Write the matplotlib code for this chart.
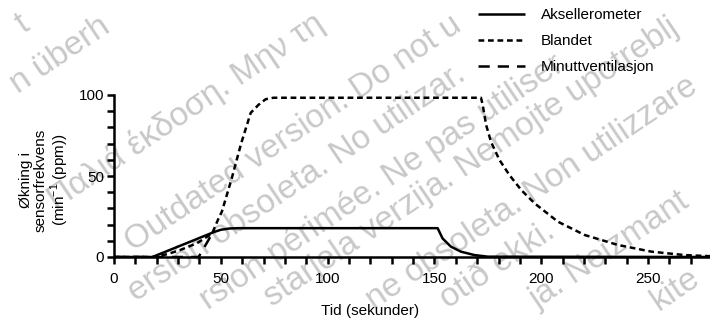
import numpy as np
import matplotlib
matplotlib.use('Agg')
import matplotlib.pyplot as plt
from matplotlib.ticker import MultipleLocator

plt.rcParams['font.family'] = ['Liberation Sans', 'DejaVu Sans']
plt.rcParams['mathtext.fontset'] = 'custom'
plt.rcParams['mathtext.rm'] = 'Liberation Sans'

# Aksellerometer (solid)
accel_x = [0, 18, 47, 50, 54, 58, 151.5, 153.8, 157.7, 162.4, 168.7, 175, 280]
accel_y = [0, 0, 15.5, 16.8, 17.6, 17.8, 17.8, 11.5, 6.4, 3.3, 1.2, 0.2, 0]

# Blandet (dotted)
mix_x = [0, 19, 25, 31, 38.8, 45.9, 49, 50.5, 55, 59.5, 64, 67.7, 71, 74.6, 80,
         171.8, 172.6, 174.2, 176.5, 180.4, 185.1, 190.6, 197, 207.8, 220.3,
         236, 251.6, 267, 279]
mix_y = [0, 0, 1.8, 4.3, 8.5, 14.4, 24, 28, 48, 70, 89, 94, 97.4, 98.3, 98.3,
         98.3, 93.8, 81.5, 71, 60, 50.6, 41.4, 33, 21.8, 13.6,
         7.4, 3.3, 1.2, 0.5]

# Minuttventilasjon (long dash), visible part only
mv_x = [0, 39.6, 46]
mv_y = [0, 0, 14.5]

labels = ['Aksellerometer', 'Blandet', 'Minuttventilasjon']

# watermark lines: (text, part to centre, pixel x, pixel y)
wm_lines = [
    ('Forældet version. Må ikke anvendes.', 'et ver', 38, 14),
    ('Version überholt. Nicht verwenden.', 'überhol', 82, 40),
    ('Παλιά έκδοση. Μην την χρησιμοποιείτε.', 'Μην την', 285, 45),
    ('Outdated version. Do not use. Versión obsoleta.', 'Do not', 395, 65),
    ('Versión obsoleta. No utilizar.', 'obsoleta', 265, 205),
    ('Version périmée. Ne pas utiliser.', 'Ne pas', 430, 150),
    ('Zastarjela verzija. Nemojte upotrebljavati.', 'upotreblja', 630, 55),
    ('Versione obsoleta. Non utilizzare.', 'utilizzare', 640, 120),
    ('Úrelt útgáfa. Notið ekki.', 'ekki', 520, 250),
    ('Novecojusi versija. Neizmantot.', 'Neizmantot', 640, 230),
    ('Pasenusi versija. Nenaudokite.', 'dokite', 660, 300),
]
WM_ANGLE = 34
WM_SIZE = 24
WM_COLOR = '#c8c8c8'
W, H = 710, 320

fig = plt.figure(figsize=(7.1, 3.2), dpi=100)
renderer = fig.canvas.get_renderer()

# watermark behind the chart, trimmed to the characters that fit in the picture
ca, sa = np.cos(np.radians(WM_ANGLE)), np.sin(np.radians(WM_ANGLE))
probe = fig.text(0, 0, '', fontsize=WM_SIZE)


def text_width(s):
    if not s:
        return 0.0
    probe.set_text(s)
    return probe.get_window_extent(renderer).width


for text, key, px, py in wm_lines:
    i = text.index(key)
    off = text_width(text[:i]) + text_width(key) / 2
    x0 = px - off * ca
    y0 = py + off * sa
    probe.set_text(text)
    h = probe.get_window_extent(renderer).height
    offs = [text_width(text[:j]) for j in range(len(text) + 1)]
    inside = []
    for j in range(len(text)):
        ok = True
        for t in (offs[j], offs[j + 1]):
            for u in (-h / 2, h / 2):
                x = x0 + t * ca + u * sa
                y = y0 - t * sa + u * ca
                if not (2 <= x <= W - 2 and 2 <= y <= H - 2):
                    ok = False
        if ok:
            inside.append(j)
    if not inside:
        continue
    a, b = inside[0], inside[-1] + 1
    while a < b and text[a] == ' ':
        a += 1
    part = text[a:b].rstrip()
    if not part:
        continue
    xs = x0 + offs[a] * ca
    ys = y0 - offs[a] * sa
    fig.text(xs / W, 1 - ys / H, part, fontsize=WM_SIZE, color=WM_COLOR,
             rotation=WM_ANGLE, rotation_mode='anchor', ha='left', va='center', zorder=-5)
probe.remove()

ax = fig.add_axes([114 / W, 1 - 257 / H, 1 - 114 / W, 162 / H])
ax.patch.set_visible(False)

lw = 1.8
l1, = ax.plot(accel_x, accel_y, color='black', lw=lw, solid_capstyle='butt')
l3, = ax.plot(mv_x, mv_y, color='black', lw=lw, dashes=(4.5, 3.2))
l2, = ax.plot(mix_x, mix_y, color='black', lw=lw, dashes=(2.3, 1.5))

ax.set_xlim(0, 279)
ax.set_ylim(0, 100)
ax.xaxis.set_major_locator(MultipleLocator(50))
ax.xaxis.set_minor_locator(MultipleLocator(10))
ax.yaxis.set_major_locator(MultipleLocator(50))
ax.yaxis.set_minor_locator(MultipleLocator(10))
ax.tick_params(which='both', length=5, width=1.8, labelsize=11, color='black')
ax.tick_params(axis='x', pad=6)
ax.tick_params(axis='y', pad=2)
for s in ['top', 'right']:
    ax.spines[s].set_visible(False)
for s in ['left', 'bottom']:
    ax.spines[s].set_linewidth(1.8)
ax.spines['bottom'].set_bounds(0, 279)

fig.text(370 / W, 1 - 311 / H, 'Tid (sekunder)', ha='center', va='center', fontsize=11)
fig.text(45 / W, 1 - 180 / H,
         'Økning i\nsensorfrekvens\n(min$^{\\mathregular{-1}}$ (ppm))',
         ha='center', va='center', rotation=90, multialignment='center',
         fontsize=11, linespacing=1.05)

fig.legend([l1, l2, l3], labels, loc='upper left', bbox_to_anchor=(478 / W, 1 - 8 / H),
           frameon=False, fontsize=11, handlelength=3.1, handletextpad=1.0,
           labelspacing=0.8, borderpad=0, borderaxespad=0)

fig.savefig('out.png', dpi=100)
